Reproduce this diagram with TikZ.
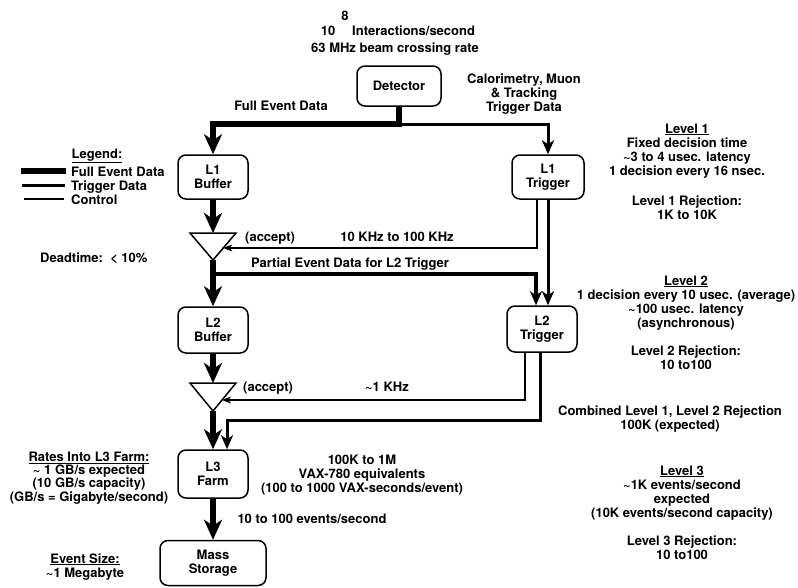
\documentclass[tikz,border=0pt]{standalone}
\usepackage{fontspec}
\setmainfont{TeX Gyre Heros}
\usetikzlibrary{arrows.meta,calc}
\begin{document}
\begin{tikzpicture}[x=1pt,y=-1pt,
  txt/.style={font=\fontsize{13}{14}\selectfont\bfseries, align=center, inner sep=0pt, anchor=base},
  blk/.style={draw, line width=1.5pt, rounded corners=8pt, minimum width=70pt, minimum height=44pt, inner sep=0pt, align=center, font=\fontsize{13}{14}\selectfont\bfseries},
  full/.style={line width=6pt},
  trig/.style={line width=3pt},
  ctrl/.style={line width=1.3pt},
  bigtip/.style={-{Stealth[length=20pt,width=18pt,inset=6pt]}},
  midtip/.style={-{Stealth[length=14pt,width=12pt,inset=4pt]}},
  smalltip/.style={-{Stealth[length=9pt,width=7pt,inset=2.5pt]}},
  tri/.style={draw, line width=1.5pt, line join=miter}
]
\useasboundingbox (0,0) rectangle (798,587);

% boxes
\node[blk, minimum width=84pt, minimum height=40pt] (det) at (399,86) {Detector};
\node[blk] (l1b) at (213,177) {L1\\Buffer};
\node[blk, minimum width=72pt] (l1t) at (548,177) {L1\\Trigger};
\node[blk, minimum height=46pt] (l2b) at (213,330) {L2\\Buffer};
\node[blk, minimum height=46pt] (l2t) at (542,329) {L2\\Trigger};
\node[blk, minimum height=48pt] (l3) at (213,474) {L3\\Farm};
\node[blk, minimum width=106pt, minimum height=45pt] (ms) at (213,563) {Mass\\Storage};

% triangles (accept gates)
\coordinate (t1l) at (190,233); \coordinate (t1r) at (236,233); \coordinate (t1a) at (213,260);
\coordinate (t1top) at (213,233);
\draw[tri] (t1l) -- (t1r) -- (t1a) -- cycle;
\coordinate (t2l) at (190,383); \coordinate (t2r) at (236,383); \coordinate (t2a) at (213,411);
\coordinate (t2top) at (213,383);
\draw[tri] (t2l) -- (t2r) -- (t2a) -- cycle;
\coordinate (t1in) at ($(t1r)!0.556!(t1a)$);
\coordinate (t2in) at ($(t2r)!0.607!(t2a)$);

% connectors
\coordinate (j) at (399,124);
\coordinate (b1) at (213,274);
\coordinate (c3) at (227,420);
\draw[full,bigtip] (det.south) -- (j) -| (l1b.north);
\draw[trig,midtip] (j) -| (l1t.north);
\draw[full,bigtip] (l1b.south) -- (t1top);
\draw[ctrl,smalltip] ([xshift=-11pt]l1t.south) |- (t1in);
\draw[trig,midtip] (l1t.south) -- ([xshift=6pt]l2t.north);
\draw[full,bigtip] (t1a) -- (l2b.north);
\draw[line width=4.5pt,midtip] (b1) -| ([xshift=-6pt]l2t.north);
\draw[full,bigtip] (l2b.south) -- (t2top);
\draw[ctrl,smalltip] ([xshift=-17pt]l2t.south) |- (t2in);
\draw[trig,midtip] ([xshift=-2pt]l2t.south) |- (c3) -- ([xshift=14pt]l3.north);
\draw[full,bigtip] (t2a) -- (l3.north);
\draw[full,bigtip] (l3.south) -- (ms.north);

% top texts
\node[txt] (ten) at (328,35) {10};
\node[txt] (eight) at (345,20) {8};
\node[txt, anchor=base west] (inter) at (352,35) {Interactions/second};
\node[txt] (beam) at (395,52) {63 MHz beam crossing rate};
\node[txt] (calo) at (524,111) {Calorimetry, Muon\\\& Tracking\\Trigger Data};
\node[txt] (fed) at (281,110) {Full Event Data};

% legend
\node[txt] (leg) at (97,158) {\underline{Legend:}};
\coordinate (lg1a) at (21,171); \coordinate (lg1b) at (66,171);
\coordinate (lg2a) at (22,185); \coordinate (lg2b) at (65,185);
\coordinate (lg3a) at (24,199); \coordinate (lg3b) at (64,199);
\draw[full] (lg1a) -- (lg1b);
\draw[trig] (lg2a) -- (lg2b);
\draw[ctrl] (lg3a) -- (lg3b);
\node[txt, anchor=base west] (lgt1) at (71,176) {Full Event Data};
\node[txt, anchor=base west] (lgt2) at (71,190) {Trigger Data};
\node[txt, anchor=base west] (lgt3) at (71,204) {Control};

% middle texts
\node[txt, anchor=base west] (acc1) at (245,241) {(accept)};
\node[txt] (khz1) at (397,241) {10 KHz to 100 KHz};
\node[txt, anchor=base west] (dead) at (40,262) {Deadtime:\ \ < 10\%};
\node[txt] (part) at (350,267) {Partial Event Data for L2 Trigger};
\node[txt, anchor=base west] (acc2) at (243,391) {(accept)};
\node[txt] (khz2) at (387,391) {\textasciitilde1 KHz};

% right texts
\node[txt] (lv1) at (687,175) {\underline{Level 1}\\Fixed decision time\\\textasciitilde3 to 4 usec. latency\\1 decision every 16 nsec.};
\node[txt] (lv1r) at (687,219) {Level 1 Rejection:\\1K to 10K};
\node[txt] (lv2) at (686,327) {\underline{Level 2}\\1 decision every 10 usec. (average)\\\textasciitilde100 usec. latency\\(asynchronous)};
\node[txt] (lv2r) at (686,369) {Level 2 Rejection:\\10 to100};
\node[txt] (comb) at (670,429) {Combined Level 1, Level 2 Rejection\\100K (expected)};
\node[txt] (lv3) at (682,517) {\underline{Level 3}\\\textasciitilde1K events/second\\expected\\(10K events/second capacity)};
\node[txt] (lv3r) at (682,559) {Level 3 Rejection:\\10 to100};

% bottom texts
\node[txt] (vax) at (362,492) {100K to 1M\\VAX-780 equivalents\\(100 to 1000 VAX-seconds/event)};
\node[txt] (evs) at (312,523) {10 to 100 events/second};
\node[txt, font=\fontsize{13}{12.5}\selectfont\bfseries] (rates) at (89,501.5) {\underline{Rates Into L3 Farm:}\\\textasciitilde\ 1 GB/s expected\\(10 GB/s capacity)\\(GB/s = Gigabyte/second)};
\node[txt] (esize) at (85,577) {\underline{Event Size:}\\\textasciitilde1 Megabyte};
\end{tikzpicture}
\end{document}
